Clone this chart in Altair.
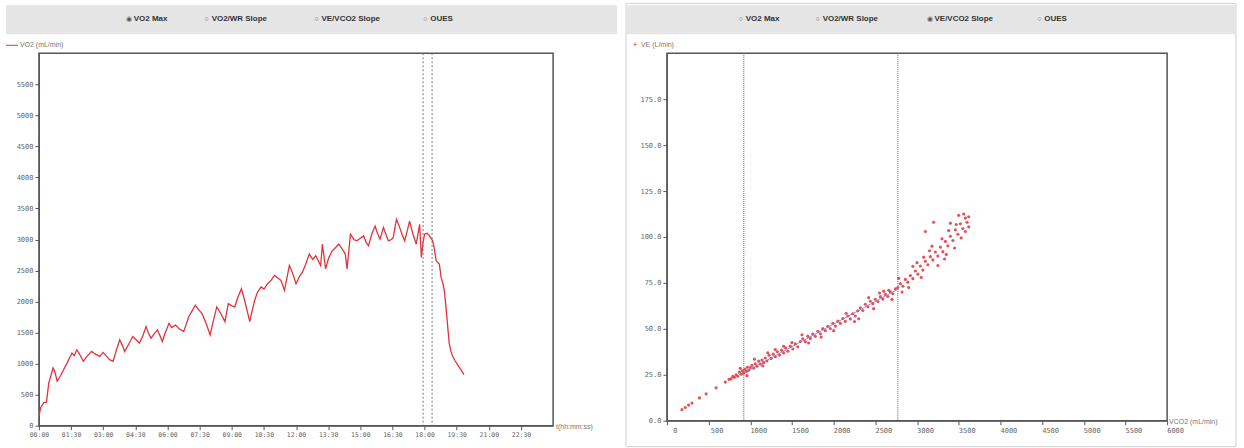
import altair as alt
import pandas as pd

# ---------------- data ----------------
t_min = [0.0, 0.08, 0.23, 0.35, 0.46, 0.66, 0.75, 0.85, 1.0, 1.15, 1.3, 1.54, 1.65, 1.77, 1.9,
         2.07, 2.25, 2.46, 2.6, 2.84, 3.0, 3.15, 3.30, 3.46, 3.6, 3.77, 3.9, 4.0, 4.2, 4.38,
         4.55, 4.69, 4.85, 5.0, 5.1, 5.23, 5.38, 5.53, 5.65, 5.76, 5.9, 6.07, 6.2, 6.38, 6.55,
         6.76, 6.88, 6.99, 7.15, 7.3, 7.45, 7.61, 7.8, 7.99, 8.15, 8.3, 8.5, 8.68, 8.84, 9.0,
         9.14, 9.3, 9.45, 9.6, 9.72, 9.84, 9.95, 10.07, 10.2, 10.37, 10.5, 10.68, 10.85, 10.99,
         11.15, 11.3, 11.46, 11.69, 11.85, 12.0, 12.15, 12.3, 12.45, 12.62, 12.78, 12.92, 13.05,
         13.15, 13.23, 13.38, 13.52, 13.69, 13.85, 14.0, 14.15, 14.3, 14.38, 14.46, 14.54, 14.7,
         14.84, 15.0, 15.15, 15.28, 15.38, 15.55, 15.69, 15.8, 15.92, 16.08, 16.2, 16.31, 16.45,
         16.54, 16.62, 16.69, 16.84, 16.95, 17.07, 17.2, 17.3, 17.46, 17.61, 17.77, 17.85, 17.93,
         18.0, 18.12, 18.23, 18.38, 18.46, 18.54, 18.69, 18.77, 18.85, 18.92, 19.0, 19.08, 19.15,
         19.23, 19.31, 19.42, 19.54, 19.7, 19.84]
vo2 = [150, 290, 372, 380, 690, 930, 860, 718, 800, 904, 1000, 1170, 1130, 1223, 1150,
       1037, 1120, 1197, 1160, 1117, 1180, 1120, 1064, 1037, 1200, 1383, 1290, 1197, 1320, 1436,
       1380, 1330, 1450, 1596, 1500, 1410, 1480, 1543, 1450, 1356, 1500, 1649, 1580, 1622, 1560,
       1516, 1640, 1755, 1850, 1941, 1870, 1809, 1650, 1463, 1700, 1915, 1800, 1676, 1968, 1930,
       1915, 2080, 2207, 2021, 1850, 1676, 1850, 2021, 2150, 2234, 2200, 2287, 2350, 2420,
       2380, 2340, 2180, 2580, 2450, 2287, 2400, 2473, 2600, 2765, 2680, 2738, 2650,
       2580, 2925, 2526, 2700, 2818, 2870, 2925, 2850, 2765, 2526, 2800, 3085, 3000,
       2978, 3020, 3058, 2950, 2898, 3100, 3217, 3100, 3005, 3191, 3080, 2978, 3000,
       3032, 3200, 3324, 3191, 3080, 2978, 3150, 3297, 3085, 2925, 3244, 2712, 2950,
       3085, 3100, 3058, 2978, 2850, 2659, 2606, 2393, 2300, 2180, 1915, 1596, 1330,
       1200, 1117, 1050, 983, 900, 823]
left_markers_min = [17.93, 18.35]

vco2 = [180, 220, 260, 300, 390, 470, 590, 700, 745, 770, 790, 810, 830, 850, 870, 890, 905, 920,
        935, 950, 965, 980, 1000, 1020, 1040, 1060, 1080, 1100, 1120, 1140, 1160, 1180, 1200, 1225,
        1250, 1275, 1300, 1325, 1350, 1375, 1400, 1425, 1450, 1480, 1510, 1540, 1570, 1600, 1630,
        1660, 1690, 1720, 1750, 1780, 1810, 1840, 1870, 1900, 1930, 1960, 1990, 2020, 2050, 2080,
        2110, 2140, 2170, 2200, 2230, 2260, 2290, 2320, 2350, 2380, 2410, 2440, 2470, 2500, 2530,
        2560, 2590, 2620, 2650, 2680, 2710, 2740, 2770, 2800, 2830, 2860, 2890, 2920, 2950, 2980,
        3010, 3040, 3070, 3100, 3130, 3160, 3190, 3220, 3250, 3280, 3310, 3340, 3370, 3400, 3430,
        3460, 3490, 3520, 3550, 3580, 3600,
        1050, 1150, 1300, 1500, 1700, 1850, 2000, 2300, 2420, 2480, 2600, 2700, 2900, 3000, 3050,
        3100, 3200, 3250, 3300, 3350, 3400, 3450, 3500, 3560, 3620, 3580, 3470, 3380, 3150, 2950,
        880, 960, 1210, 1400, 1620, 2150, 2250, 2550, 2660, 2780, 2820, 3080, 3180, 3330, 3530, 3620]
ve = [6.0, 7.2, 8.5, 9.6, 12.4, 14.6, 17.9, 21.0, 22.5, 22.8, 24.1, 23.6, 25.0, 24.2, 26.4, 25.3, 27.2, 25.9,
      28.0, 26.8, 29.1, 27.4, 28.9, 30.2, 28.6, 31.0, 29.7, 32.4, 30.8, 33.0, 31.6, 34.1, 32.5, 35.6,
      33.9, 36.2, 34.8, 37.5, 35.7, 38.4, 36.9, 39.6, 37.8, 40.5, 39.0, 41.8, 40.2, 43.1, 44.6,
      43.0, 46.0, 44.8, 47.2, 45.9, 48.7, 47.3, 50.1, 49.0, 51.4, 50.2, 53.0, 51.5, 54.2, 53.0,
      55.6, 54.1, 57.0, 55.4, 58.2, 57.0, 59.8, 61.5, 60.0, 63.4, 62.0, 65.0, 63.7, 66.1, 64.9,
      67.5, 66.2, 68.8, 67.6, 70.2, 69.1, 71.8, 72.5, 74.6, 73.2, 76.9, 75.4, 79.0, 77.3, 81.5,
      79.8, 84.2, 82.0, 86.8, 84.9, 89.3, 87.5, 91.8, 89.6, 94.5, 92.0, 97.6, 95.2, 100.4, 98.1,
      103.9, 101.5, 107.2, 104.6, 110.3, 108.0,
      33.5, 29.8, 38.7, 42.5, 42.3, 45.5, 49.0, 55.5, 67.0, 61.0, 70.5, 66.0, 72.5, 86.0, 78.0,
      103.0, 108.0, 84.5, 99.0, 90.5, 107.5, 94.0, 111.8, 112.5, 111.0, 103.0, 106.8, 103.5, 92.5, 84.0,
      28.5, 24.5, 37.0, 40.5, 46.8, 58.5, 54.0, 69.5, 71.0, 77.5, 70.0, 89.0, 95.0, 88.0, 99.5, 105.5]
right_markers = [922, 2770]
fit_vco2 = [900, 2780]
fit_ve = [25.5, 71.8]

radio_labels = ["VO2 Max", "VO2/WR Slope", "VE/VCO2 Slope", "OUES"]
t_ticks = [i * 1.5 for i in range(16)]
vo2_ticks = list(range(0, 6000, 500))
ve_ticks = [0, 25, 50, 75, 100, 125, 150, 175]
vco2_ticks = list(range(0, 6001, 500))

RED = "#e2323c"
FONT = "Liberation Sans"

# ---------------- helpers ----------------
one = pd.DataFrame({"k": [0]})


def band(x0, x1):
    return alt.Chart(one).mark_rect(color="#e5e5e5").encode(
        x=alt.value(x0), x2=alt.value(x1), y=alt.value(-48), y2=alt.value(-19))


def radios(xs, selected):
    layers = []
    for i, (lab, x) in enumerate(zip(radio_labels, xs)):
        layers.append(alt.Chart(one).mark_text(
            text="◉" if i == selected else "○", fontSize=7, color="#555", align="center",
            baseline="middle").encode(x=alt.value(x - 4), y=alt.value(-34)))
        layers.append(alt.Chart(one).mark_text(
            text=lab, fontSize=8, fontWeight="bold", font=FONT, color="#333", align="left",
            baseline="middle").encode(x=alt.value(x + 1), y=alt.value(-34)))
    return layers


def note(text, x, y, color="#777", size=7, align="left"):
    return alt.Chart(one).mark_text(text=text, fontSize=size, font=FONT, color=color,
                                    align=align, baseline="middle").encode(
        x=alt.value(x), y=alt.value(y))


# invisible page extent (1244 x 448, left plot origin at 38, 52)
canvas = alt.Chart(one).mark_rect(fill="white", opacity=0).encode(
    x=alt.value(-38), x2=alt.value(1206), y=alt.value(-52), y2=alt.value(396))

# ---------------- left panel ----------------
ldf = pd.DataFrame({"t": t_min, "vo2": vo2})
lxs = alt.Scale(domain=[0, 24], nice=False)
lx_axis = alt.Axis(values=t_ticks, labelOverlap=False, labelFlush=False, labelFontSize=6.5,
                   labelExpr=(
    "(floor(datum.value) < 10 ? '0' : '') + floor(datum.value) + ':' + "
    "(round((datum.value % 1) * 60) < 10 ? '0' : '') + round((datum.value % 1) * 60)"))
lx = alt.X("t:Q", scale=lxs, title=None, axis=lx_axis)
ly = alt.Y("vo2:Q", scale=alt.Scale(domain=[0, 6000], nice=False), title=None,
           axis=alt.Axis(values=vo2_ticks, format="d"))
vline = alt.Chart(ldf).mark_line(color=RED, strokeWidth=1.3).encode(x=lx, y=ly)
lrules = alt.Chart(pd.DataFrame({"t": left_markers_min})).mark_rule(
    color="#777", strokeDash=[2, 2], strokeWidth=1).encode(x=lx)
left = alt.layer(
    canvas,
    band(-33, 579), *radios([94, 172, 282, 391], 0),
    alt.Chart(one).mark_rule(color=RED, strokeWidth=1).encode(
        x=alt.value(-33), x2=alt.value(-21), y=alt.value(-8)),
    note("VO2 (mL/min)", -19, -8),
    note("t(hh:mm:ss)", 518, 374),
    vline, lrules,
).properties(width=515, height=373)

# ---------------- right panel ----------------
rdf = pd.DataFrame({"vco2": vco2, "ve": ve})
rxs = alt.Scale(domain=[0, 6000], nice=False)
rys = alt.Scale(domain=[0, 200], nice=False)
rx = alt.X("vco2:Q", scale=rxs, title=None,
           axis=alt.Axis(values=vco2_ticks, labelOffset=8, format="d", labelOverlap=False,
                         labelFlush=False))
ry = alt.Y("ve:Q", scale=rys, title=None, axis=alt.Axis(values=ve_ticks, format=".1f"))
pts = alt.Chart(rdf).mark_circle(color=RED, size=10, opacity=0.85).encode(x=rx, y=ry)
fit = alt.Chart(pd.DataFrame({"vco2": fit_vco2, "ve": fit_ve})).mark_line(
    color="#6b7fc4", strokeWidth=1, opacity=0.8).encode(x=rx, y=ry)
rrules = alt.Chart(pd.DataFrame({"vco2": right_markers})).mark_rule(
    color="#666", strokeDash=[1, 1], strokeWidth=1).encode(x=rx)
border = alt.Chart(one).mark_rect(fill=None, stroke="#d0d0d0", strokeWidth=1).encode(
    x=alt.value(-41), x2=alt.value(570), y=alt.value(-50), y2=alt.value(394))
right = alt.layer(
    border, band(-41, 570), *radios([78, 155, 267, 377], 2),
    note("+", -32, -8, color=RED, size=8, align="center"),
    note("VE (L/min)", -26, -8),
    note("VCO2 (mL/min)", 503, 369),
    pts, rrules, fit,
).properties(width=501, height=368)

chart = alt.hconcat(left, right, spacing=114, bounds="flush").properties(
    padding=0,
    background="white",
).configure_view(stroke="#555", strokeWidth=1.5).configure_axis(
    grid=False, labelFontSize=7, labelColor="#666", labelFont="DejaVu Sans Mono",
    tickColor="#555", tickSize=4, domainColor="#555", labelPadding=2,
)

chart.save("out.html", embed_options={"renderer": "svg", "actions": False})
